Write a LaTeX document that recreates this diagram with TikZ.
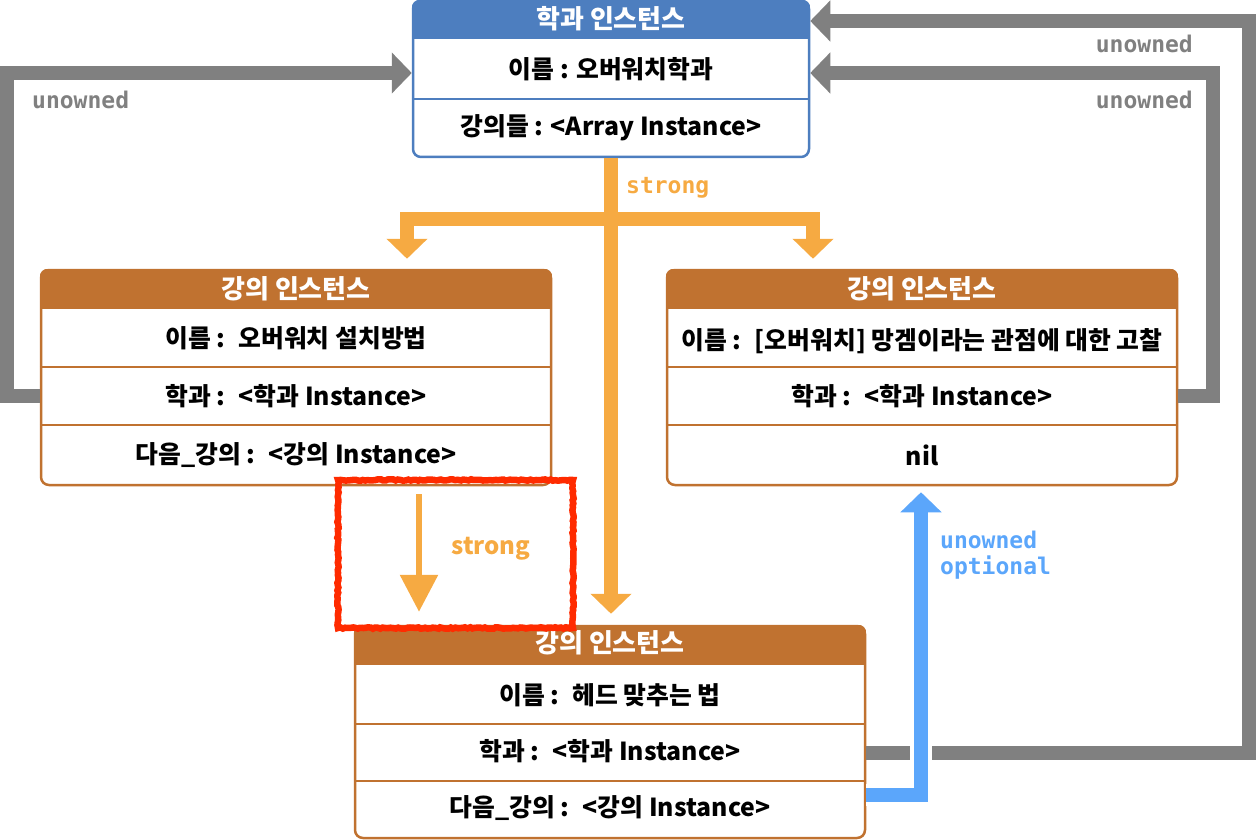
\documentclass[tikz,border=0pt]{standalone}
\usepackage{fontspec}
\newfontfamily\krfont{Noto Sans CJK KR}
\newfontfamily\codefont{DejaVu Sans Mono}
\usepackage{xcolor}
\definecolor{deptBlue}{HTML}{4D7EBF}
\definecolor{lectureBrown}{HTML}{C07230}
\definecolor{strongOrange}{HTML}{F6AA42}
\definecolor{unownedGray}{HTML}{808080}
\definecolor{optionalBlue}{HTML}{5BA6FB}
\definecolor{markRed}{HTML}{FF2B00}
\usepackage{tikz}
\usetikzlibrary{arrows.meta, positioning, calc, decorations.pathmorphing}

\begin{document}
\begin{tikzpicture}[
        x=1pt, y=-1pt,
        >={Triangle[width=40pt, length=20pt]},
        boxFrame/.style={
            draw=#1,
            fill=white,
            line width=2.5pt,
            rounded corners=8pt,
            inner sep=0pt
        },
        rowLine/.style={
            draw=#1,
            line width=2.2pt
        },
        titleText/.style={
            font=\krfont\bfseries\fontsize{26}{30}\selectfont,
            text=white
        },
        rowText/.style={
            font=\krfont\bfseries\fontsize{24.8}{28}\selectfont,
            text=black
        },
        codeLabel/.style={
            font=\codefont\bfseries\fontsize{23}{26}\selectfont,
            text=#1,
            inner sep=0pt
        },
        unownedLine/.style={
            ->,
            draw=unownedGray,
            line width=14pt
        },
        strongLine/.style={
            ->,
            draw=strongOrange,
            line width=14pt
        },
        optionalLine/.style={
            ->,
            draw=optionalBlue,
            line width=14pt,
            preaction={draw=white, line width=22pt}
        },
        markBox/.style={
            draw=markRed,
            line width=6.5pt,
            decorate,
            decoration={random steps, segment length=2.5pt, amplitude=0.7pt}
        }
    ]
    \useasboundingbox (0,0) rectangle (1256,840);

    % Department instance
    \node[boxFrame=deptBlue, minimum width=396pt, minimum height=156pt] (deptBox) at (611,79) {};
    \begin{scope}
        \clip[rounded corners=8pt] (deptBox.south west) rectangle (deptBox.north east);
        \fill[deptBlue] (deptBox.north west) rectangle ($(deptBox.north east)+(0,39)$);
    \end{scope}
    \draw[rowLine=deptBlue] (deptBox.west |- 0,99) -- (deptBox.east |- 0,99);
    \node[titleText] (deptTitle) at (611,19) {학과 인스턴스};
    \node[rowText] (deptName) at (611,69.5) {이름 : 오버워치학과};
    \node[rowText] (deptLectures) at (611,128) {강의들 : <Array Instance>};

    % Lecture instance (left)
    \node[boxFrame=lectureBrown, minimum width=510pt, minimum height=215pt] (leftBox) at (296,377.5) {};
    \begin{scope}
        \clip[rounded corners=8pt] (leftBox.south west) rectangle (leftBox.north east);
        \fill[lectureBrown] (leftBox.north west) rectangle ($(leftBox.north east)+(0,40)$);
    \end{scope}
    \draw[rowLine=lectureBrown] (leftBox.west |- 0,367) -- (leftBox.east |- 0,367);
    \draw[rowLine=lectureBrown] (leftBox.west |- 0,425) -- (leftBox.east |- 0,425);
    \node[titleText] (leftTitle) at (296,289) {강의 인스턴스};
    \node[rowText] (leftName) at (296,338.5) {이름 :~ 오버워치 설치방법};
    \node[rowText] (leftDept) at (296,396) {학과 :~ <학과 Instance>};
    \node[rowText] (leftNext) at (296,455) {다음\_강의 :~ <강의 Instance>};

    % Lecture instance (right)
    \node[boxFrame=lectureBrown, minimum width=510pt, minimum height=215pt] (rightBox) at (922,377.5) {};
    \begin{scope}
        \clip[rounded corners=8pt] (rightBox.south west) rectangle (rightBox.north east);
        \fill[lectureBrown] (rightBox.north west) rectangle ($(rightBox.north east)+(0,40)$);
    \end{scope}
    \draw[rowLine=lectureBrown] (rightBox.west |- 0,367) -- (rightBox.east |- 0,367);
    \draw[rowLine=lectureBrown] (rightBox.west |- 0,425) -- (rightBox.east |- 0,425);
    \node[titleText] (rightTitle) at (922,289) {강의 인스턴스};
    \node[rowText] (rightName) at (922,341) {이름 :~ [오버워치] 망겜이라는 관점에 대한 고찰};
    \node[rowText] (rightDept) at (922,396) {학과 :~ <학과 Instance>};
    \node[rowText] (rightNext) at (922,455) {nil};

    % Lecture instance (bottom)
    \node[boxFrame=lectureBrown, minimum width=510pt, minimum height=212pt] (bottomBox) at (610,732) {};
    \begin{scope}
        \clip[rounded corners=8pt] (bottomBox.south west) rectangle (bottomBox.north east);
        \fill[lectureBrown] (bottomBox.north west) rectangle ($(bottomBox.north east)+(0,40)$);
    \end{scope}
    \draw[rowLine=lectureBrown] (bottomBox.west |- 0,724) -- (bottomBox.east |- 0,724);
    \draw[rowLine=lectureBrown] (bottomBox.west |- 0,781) -- (bottomBox.east |- 0,781);
    \node[titleText] (bottomTitle) at (610,643) {강의 인스턴스};
    \node[rowText] (bottomName) at (610,695) {이름 :~ 헤드 맞추는 법};
    \node[rowText] (bottomDept) at (610,751) {학과 :~ <학과 Instance>};
    \node[rowText] (bottomNext) at (610,808) {다음\_강의 :~ <강의 Instance>};

    % Strong references from the department
    \coordinate (branch) at (611,219);
    \draw[strongLine, shorten >=10pt] (branch) -| (leftBox.north -| 407,0);
    \draw[strongLine, shorten >=10pt] (branch) -| (rightBox.north -| 813,0);
    \draw[strongLine, shorten >=11pt] (deptBox.south) -- (deptBox.south |- bottomBox.north);
    \node[codeLabel=strongOrange, anchor=west] (strongTop) at (626,188) {strong};

    % Unowned references back to the department
    \draw[unownedLine] (leftBox.west |- leftDept) -| (7,73) -- (deptBox.west |- 0,73);
    \draw[unownedLine] (rightBox.east |- rightDept) -| (1213,73) -- (deptBox.east |- 0,73);
    \draw[unownedLine] (bottomBox.east |- 0,753) -| (1249,21) -- (deptBox.east |- 0,21);
    \node[codeLabel=unownedGray, anchor=west] (unownedLeft) at (32,100) {unowned};
    \node[codeLabel=unownedGray, anchor=east] (unownedUpper) at (1193,44) {unowned};
    \node[codeLabel=unownedGray, anchor=east] (unownedLower) at (1193,100) {unowned};

    % Unowned optional: next lecture
    \draw[optionalLine, shorten >=6pt] (bottomBox.east |- 0,795) -| (rightBox.south -| 921,0);
    \node[codeLabel=optionalBlue, anchor=north west, align=left] (optionalLabel) at (940,531) {unowned\\optional};

    % Strong: next lecture
    \draw[draw=strongOrange, line width=6pt, -{Triangle[width=37pt, length=37pt]},
        shorten <=8pt, shorten >=13pt] (leftBox.south -| 419,0) -- (bottomBox.north -| 419,0);
    \node[font=\krfont\bfseries\fontsize{24}{28}\selectfont, text=strongOrange] (strongNext) at (491,549) {strong};
    \draw[markBox] (338,480) rectangle (573,628);

    \end{tikzpicture}
\end{document}
